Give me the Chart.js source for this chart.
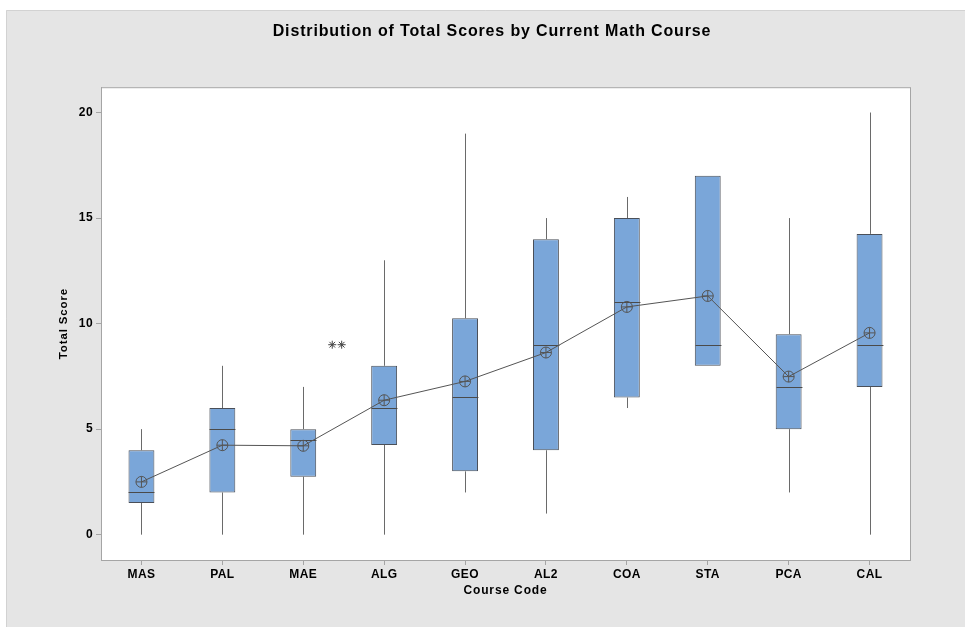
<!DOCTYPE html>
<html>
<head>
<meta charset="utf-8">
<title>Distribution of Total Scores by Current Math Course</title>
<script src="https://cdn.jsdelivr.net/npm/chart.js"></script>
<style>
    html, body { margin: 0; padding: 0; background: #ffffff; }
    #box { display: block; }
</style>
</head>
<body>
<canvas id="box" width="965" height="627"></canvas>
<script>
// course codes on the x axis
const courses = ['MAS', 'PAL', 'MAE', 'ALG', 'GEO', 'AL2', 'COA', 'STA', 'PCA', 'CAL'];

// five-number summaries
const whiskerLow = [0, 0, 0, 0, 2, 1, 6, 8, 2, 0];
const q1 = [1.5, 2, 2.75, 4.25, 3, 4, 6.5, 8, 5, 7];
const medians = [2, 5, 4.5, 6, 6.5, 9, 11, 9, 7, 9];
const q3 = [4, 6, 5, 8, 10.25, 14, 15, 17, 9.5, 14.25];
const whiskerHigh = [5, 8, 7, 13, 19, 15, 16, 17, 15, 20];

// means (connected by a line)
const means = [2.5, 4.24, 4.21, 6.37, 7.26, 8.63, 10.79, 11.31, 7.49, 9.56];

// outliers (both in MAE, plotted side by side)
const outlierCourse = [2, 2];
const outlierJitter = [-0.07, 0.07];
const outlierValues = [9, 9];

const yTicks = [0, 5, 10, 15, 20];

const FONT = "'Liberation Sans', Arial, sans-serif";

const backgroundPlugin = {
    id: 'background',
    beforeDraw(chart) {
        const ctx = chart.ctx;
        const area = chart.chartArea;
        ctx.save();
        ctx.fillStyle = '#ffffff';
        ctx.fillRect(0, 0, chart.width, chart.height);
        ctx.fillStyle = '#e5e5e5';
        ctx.fillRect(6, 10, chart.width - 6, chart.height - 10);
        ctx.strokeStyle = '#d2d2d2';
        ctx.lineWidth = 1;
        ctx.beginPath();
        ctx.moveTo(6.5, chart.height);
        ctx.lineTo(6.5, 10.5);
        ctx.lineTo(chart.width, 10.5);
        ctx.stroke();
        ctx.fillStyle = '#ffffff';
        ctx.fillRect(area.left, area.top, area.right - area.left, area.bottom - area.top);
        ctx.strokeStyle = '#a5a5a5';
        ctx.strokeRect(area.left + 0.5, area.top + 0.5, area.right - area.left, area.bottom - area.top);
        ctx.restore();
        // the main title is drawn before the datasets, with wider spacing
        ctx.letterSpacing = '0.85px';
    },
    beforeDatasetsDraw(chart) {
        // axis labels are drawn after the datasets (ticks z: 1)
        chart.ctx.letterSpacing = '0.4px';
    }
};

// whiskers and median lines, drawn right after the boxes
const boxPartsPlugin = {
    id: 'boxParts',
    afterDatasetDraw(chart, args) {
        if (args.index !== 0) return;
        const ctx = chart.ctx;
        const x = chart.scales.x;
        const y = chart.scales.y;
        const meta = chart.getDatasetMeta(0);
        ctx.save();
        ctx.lineWidth = 1;
        courses.forEach((c, i) => {
            const cx = Math.round(x.getPixelForValue(i)) + 0.5;
            const half = meta.data[i].width / 2;

            ctx.strokeStyle = '#6a6a6a';
            ctx.beginPath();
            if (whiskerHigh[i] > q3[i]) {
                ctx.moveTo(cx, y.getPixelForValue(q3[i]));
                ctx.lineTo(cx, y.getPixelForValue(whiskerHigh[i]));
            }
            if (whiskerLow[i] < q1[i]) {
                ctx.moveTo(cx, y.getPixelForValue(q1[i]));
                ctx.lineTo(cx, y.getPixelForValue(whiskerLow[i]));
            }
            ctx.stroke();

            const my = Math.round(y.getPixelForValue(medians[i])) + 0.5;
            ctx.strokeStyle = '#4a4a4a';
            ctx.beginPath();
            ctx.moveTo(cx - half, my);
            ctx.lineTo(cx + half, my);
            ctx.stroke();
        });
        ctx.restore();
    }
};

const ctx = document.getElementById('box').getContext('2d');

new Chart(ctx, {
    type: 'bar',
    data: {
        labels: courses,
        datasets: [
            {
                label: 'Box',
                data: courses.map((c, i) => [q1[i], q3[i]]),
                backgroundColor: '#7aa6d9',
                borderColor: '#4a4f58',
                borderWidth: 1,
                borderSkipped: false,
                grouped: false,
                barPercentage: 0.32,
                categoryPercentage: 1,
                order: 10
            },
            {
                type: 'line',
                label: 'Mean',
                data: means,
                borderColor: '#555555',
                borderWidth: 1,
                tension: 0,
                pointStyle: 'circle',
                pointRadius: 5.5,
                pointBorderWidth: 1,
                pointBorderColor: '#555555',
                pointBackgroundColor: 'rgba(0,0,0,0)',
                order: 2
            },
            {
                type: 'line',
                label: 'Mean cross',
                data: means,
                showLine: false,
                pointStyle: 'cross',
                pointRadius: 5.5,
                pointBorderWidth: 1,
                pointBorderColor: '#555555',
                order: 1
            },
            {
                type: 'scatter',
                label: 'Outliers',
                xAxisID: 'xOut',
                data: outlierValues.map((v, i) => ({ x: outlierCourse[i] + outlierJitter[i], y: v })),
                pointStyle: 'star',
                pointRadius: 4,
                pointBorderWidth: 1,
                pointBorderColor: '#444444',
                order: 0
            }
        ]
    },
    options: {
        responsive: false,
        animation: false,
        events: [],
        layout: {
            padding: { left: 19, right: 0, top: 0, bottom: 0 }
        },
        plugins: {
            legend: { display: false },
            tooltip: { enabled: false },
            title: {
                display: true,
                text: 'Distribution of Total Scores by Current Math Course',
                color: '#000000',
                font: { family: FONT, size: 16, weight: 'bold' },
                padding: { top: 22, bottom: 46 }
            }
        },
        scales: {
            x: {
                type: 'category',
                offset: true,
                grid: {
                    display: true,
                    offset: false,
                    drawOnChartArea: false,
                    drawTicks: true,
                    tickLength: 5,
                    color: '#a5a5a5'
                },
                border: { display: true, color: '#a5a5a5' },
                ticks: {
                    z: 1,
                    color: '#000000',
                    padding: 2,
                    maxRotation: 0,
                    font: { family: FONT, size: 12, weight: 'bold' }
                },
                title: {
                    display: true,
                    text: 'Course Code',
                    color: '#000000',
                    font: { family: FONT, size: 12, weight: 'bold' },
                    padding: { top: 0, bottom: 29 }
                },
                afterFit(scale) { scale.height = 67; }
            },
            xOut: {
                type: 'linear',
                display: false,
                min: -0.5,
                max: courses.length - 0.5
            },
            y: {
                type: 'linear',
                min: -1.2,
                max: 21.2,
                grid: {
                    display: true,
                    drawOnChartArea: false,
                    drawTicks: true,
                    tickLength: 5,
                    color: '#a5a5a5'
                },
                border: { display: true, color: '#a5a5a5' },
                ticks: {
                    z: 1,
                    color: '#000000',
                    padding: 3,
                    font: { family: FONT, size: 12, weight: 'bold' }
                },
                afterBuildTicks(scale) {
                    scale.ticks = yTicks.map(v => ({ value: v }));
                },
                title: {
                    display: true,
                    text: 'Total Score',
                    color: '#000000',
                    font: { family: FONT, size: 11.5, weight: 'bold' },
                    padding: { top: 38, bottom: 0 }
                },
                afterFit(scale) { scale.width = 82; }
            },
            yR: {
                type: 'linear',
                position: 'right',
                display: true,
                grid: { display: false },
                border: { display: false },
                ticks: { display: false },
                afterFit(scale) { scale.width = 55; }
            }
        }
    },
    plugins: [backgroundPlugin, boxPartsPlugin]
});
</script>
</body>
</html>
